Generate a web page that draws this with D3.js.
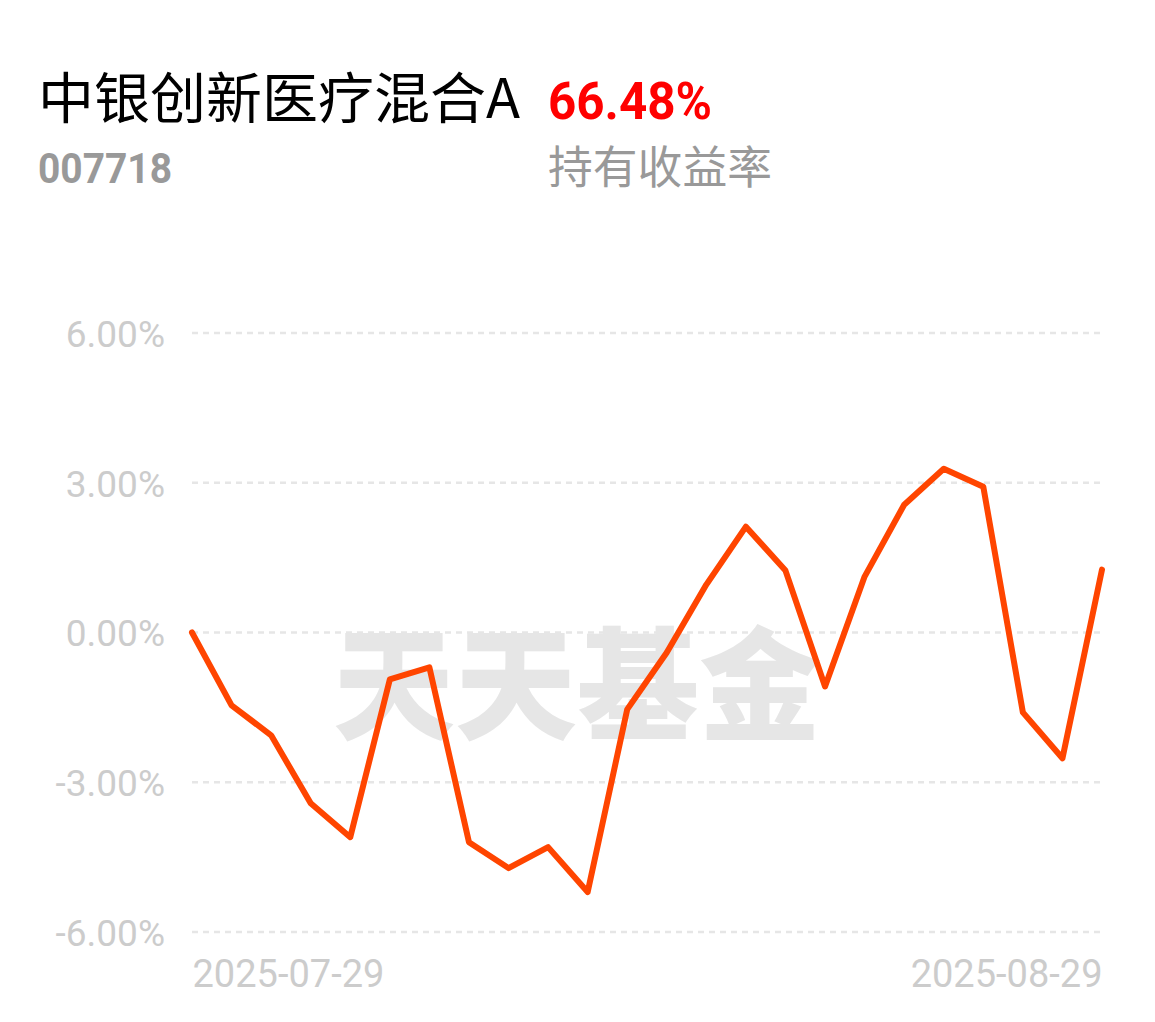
<!DOCTYPE html>
<html><head><meta charset="utf-8">
<script src="https://cdn.jsdelivr.net/npm/d3@7"></script>
<style>
html,body{margin:0;padding:0;background:#fff;}
svg{display:block;}
</style></head>
<body>
<svg id="chart" width="1155" height="1022"></svg>
<script>
const fundName = "中银创新医疗混合A";
const fundCode = "007718";
const holdReturn = "66.48%";
const holdLabel = "持有收益率";
const watermark = "天天基金";

const dates = ["2025-07-29","2025-07-30","2025-07-31","2025-08-01","2025-08-04","2025-08-05","2025-08-06","2025-08-07","2025-08-08","2025-08-11","2025-08-12","2025-08-13","2025-08-14","2025-08-15","2025-08-18","2025-08-19","2025-08-20","2025-08-21","2025-08-22","2025-08-25","2025-08-26","2025-08-27","2025-08-28","2025-08-29"];
const values = [0, -1.46, -2.06, -3.42, -4.10, -0.94, -0.70, -4.20, -4.72, -4.30, -5.20, -1.54, -0.40, 0.96, 2.12, 1.24, -1.08, 1.12, 2.56, 3.28, 2.92, -1.60, -2.52, 1.26];
const yTicks = [6, 3, 0, -3, -6];
const xTickLabels = ["2025-07-29", "2025-08-29"];

const svg = d3.select("#chart");
const cjk = "'Noto Sans CJK SC','Noto Sans',sans-serif";
const latin = "Roboto,'Noto Sans',sans-serif";

// header
svg.append("text").attr("x", 38).attr("y", 118)
  .attr("font-family", cjk).attr("font-size", 55).attr("fill", "#000")
  .attr("textLength", 482).attr("lengthAdjust", "spacingAndGlyphs")
  .text(fundName);
svg.append("text").attr("x", 548).attr("y", 119)
  .attr("font-family", latin).attr("font-weight", 700).attr("font-size", 52)
  .attr("fill", "#ff0000").attr("textLength", 164).attr("lengthAdjust", "spacingAndGlyphs")
  .text(holdReturn);
svg.append("text").attr("x", 38).attr("y", 183)
  .attr("font-family", latin).attr("font-weight", 700).attr("font-size", 42)
  .attr("fill", "#999").attr("textLength", 134).attr("lengthAdjust", "spacingAndGlyphs")
  .text(fundCode);
svg.append("text").attr("x", 548).attr("y", 184)
  .attr("font-family", cjk).attr("font-size", 45).attr("fill", "#999")
  .attr("textLength", 224).attr("lengthAdjust", "spacingAndGlyphs")
  .text(holdLabel);

// scales
const x = d3.scalePoint().domain(dates).range([192, 1102]);
const y = d3.scaleLinear().domain([-6, 6]).range([932, 333]);

// watermark
svg.append("text").attr("x", 577).attr("y", 730)
  .attr("text-anchor", "middle")
  .attr("font-family", cjk).attr("font-weight", 900).attr("font-size", 122)
  .attr("fill", "#e6e6e6").attr("textLength", 488).attr("lengthAdjust", "spacingAndGlyphs")
  .text(watermark);

// y axis labels
const yAxis = d3.axisLeft(y).tickValues(yTicks).tickSize(0).tickPadding(0)
  .tickFormat(d => d.toFixed(2) + "%");
const ga = svg.append("g").attr("transform", "translate(165,0)").call(yAxis);
ga.select(".domain").remove();
ga.selectAll("text").attr("font-family", latin).attr("font-size", 37)
  .attr("fill", "#cccccc").attr("dy", "0.36em");

// grid
svg.append("g").selectAll("line").data(yTicks).join("line")
  .attr("x1", 192).attr("x2", 1100)
  .attr("y1", d => y(d)).attr("y2", d => y(d))
  .attr("stroke", "#e6e6e6").attr("stroke-width", 2.5)
  .attr("stroke-dasharray", "6,5");

// x labels
const xAxis = d3.axisBottom(x).tickValues(xTickLabels).tickSize(0).tickPadding(0);
const gx = svg.append("g").attr("transform", "translate(0,960)").call(xAxis);
gx.select(".domain").remove();
gx.selectAll("text").attr("font-family", latin).attr("font-size", 38)
  .attr("fill", "#cccccc").attr("dy", "0.72em")
  .attr("text-anchor", (d, i) => i === 0 ? "start" : "end");

// line
const line = d3.line().x((d, i) => x(dates[i])).y(d => y(d));
svg.append("path").datum(values)
  .attr("d", line).attr("fill", "none")
  .attr("stroke", "#ff4500").attr("stroke-width", 6)
  .attr("stroke-linejoin", "round").attr("stroke-linecap", "round");
</script>
</body></html>
